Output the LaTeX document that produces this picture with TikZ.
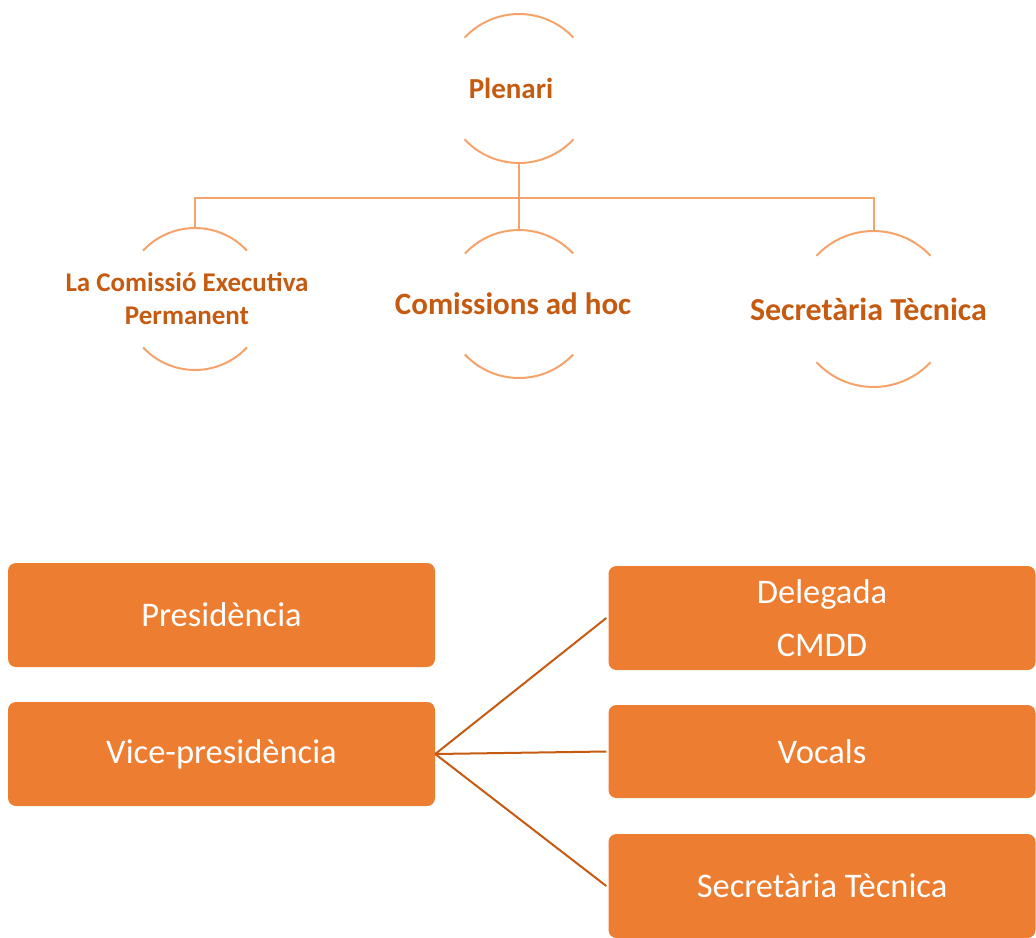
\documentclass[tikz,border=0pt]{standalone}
\usepackage{fontspec}
\setmainfont{Carlito}
\usetikzlibrary{positioning, calc}

\definecolor{linelight}{HTML}{F5A36B}
\definecolor{textdark}{HTML}{C55A11}
\definecolor{boxfill}{HTML}{ED7D31}

\tikzset{
  ring/.style={circle, inner sep=0pt, outer sep=0pt, minimum size=#1},
  ringline/.style={draw=linelight, line width=2pt},
  toptext/.style={text=textdark, font=\bfseries\fontsize{#1}{#1}\selectfont, align=center},
  orgbox/.style={fill=boxfill, rounded corners=8pt, inner sep=0pt,
    minimum width=427pt, minimum height=104pt, text=white, align=center,
    font=\fontsize{34.5}{53}\selectfont},
  linkline/.style={draw=textdark, line width=2pt}
}

% arcs of a ring: name, radius
\newcommand{\ringarcs}[2]{%
  \draw[ringline] (#1.43) arc[start angle=43, end angle=137, radius=#2];
  \draw[ringline] (#1.223) arc[start angle=223, end angle=317, radius=#2];
}

\begin{document}
\begin{tikzpicture}[x=1pt, y=1pt]
      \useasboundingbox (0,0) rectangle (1036,-937);
      \clip (0,0) rectangle (1036,-937);
      % top tree
      \node[ring=149pt] (plen) at (519,-88.5) {};
      \node[ring=142pt] (cep) at (195,-299) {};
      \node[ring=148pt] (adhoc) at (519,-304) {};
      \node[ring=156pt] (sect) at (873.5,-309) {};
      \ringarcs{plen}{74.5}
      \ringarcs{cep}{71}
      \ringarcs{adhoc}{74}
      \ringarcs{sect}{78}
      \node[toptext=29] (plent) at ([xshift=-8pt]plen.center) {Plenari};
      \node[toptext=27, font=\bfseries\fontsize{27}{33}\selectfont] (cept) at ([xshift=-8pt]cep.center)
        {La Comissió Executiva\\Permanent};
      \node[toptext=31] (adhoct) at ([xshift=-6pt]adhoc.center) {Comissions ad hoc};
      \node[toptext=32] (sectt) at ([xshift=-5pt]sect.center) {Secretària Tècnica};
      \coordinate (fork) at (519,-198);
      \draw[ringline] (plen.south) -- (fork);
      \draw[ringline] (fork) -| (cep.north);
      \draw[ringline] (fork) -| (adhoc.north);
      \draw[ringline] (fork) -| (sect.north);
      % bottom boxes
      \node[orgbox] (pres) at (221.5,-615) {Presidència};
      \node[orgbox] (vice) at (221.5,-754) {Vice-presidència};
      \node[orgbox] (dele) at (822,-618) {Delegada\\CMDD};
      \node[orgbox, minimum height=93pt] (voc) at (822,-751.5) {Vocals};
      \node[orgbox] (secb) at (822,-886) {Secretària Tècnica};
      \draw[linkline] (vice.east) -- ([xshift=-2pt]dele.west);
      \draw[linkline] (vice.east) -- ([xshift=-2pt]voc.west);
      \draw[linkline] (vice.east) -- ([xshift=-2pt]secb.west);
\end{tikzpicture}
\end{document}
